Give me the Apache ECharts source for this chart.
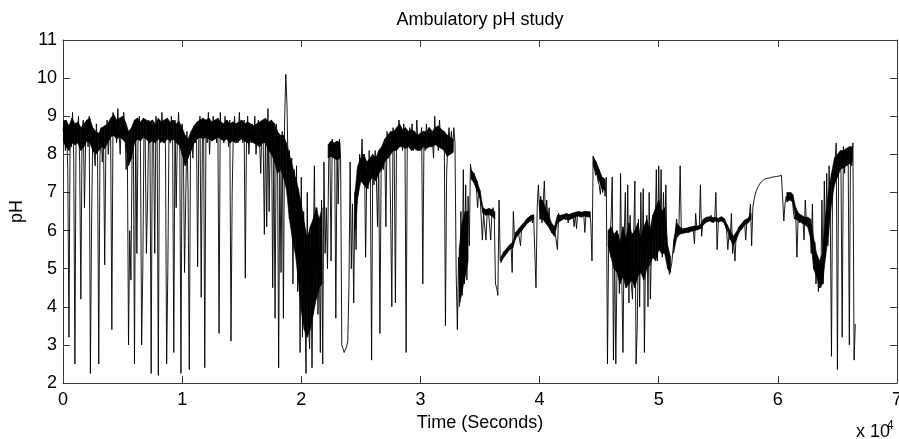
<!DOCTYPE html>
<html><head><meta charset="utf-8">
<script src="https://cdn.jsdelivr.net/npm/echarts/dist/echarts.min.js"></script>
<style>html,body{margin:0;padding:0;background:#fff}#c{width:899px;height:439px}</style>
</head><body><div id="c"></div>
<script>
// sampling interval of the recording (seconds between samples)
const sampleStep = 100;

// pH readings, 0 - 9 900 s
const ph00 = [
 8.6,8.9,8.1,8.8,7.6,3.2,8.7,8.2,9.1,7.9,
 2.5,8.8,8.4,9.0,7.8,4.2,8.6,8.9,6.6,8.3,
 8.9,8.2,9.0,2.25,6.3,8.6,8.1,7.7,8.8,8.0,
 2.5,7.9,8.7,7.8,8.5,5.1,8.3,8.9,8.0,8.6,
 8.4,3.4,9.1,8.5,8.9,8.3,9.2,8.6,8.0,8.9,
 8.4,9.1,8.6,7.6,8.2,3.0,6.0,4.7,8.1,8.8,
 2.5,8.9,5.4,8.5,9.0,8.3,3.0,5.0,8.7,8.4,
 5.4,6.8,8.9,8.3,2.25,8.8,8.4,5.4,9.0,8.5,
 2.2,8.9,8.3,9.1,8.5,8.8,8.2,2.5,5.0,8.7,
 8.3,9.0,8.4,2.8,8.9,6.6,8.5,9.1,8.3,2.25
];
// 10 000 - 19 900 s
const ph10 = [
 8.8,8.2,4.9,6.8,8.6,7.0,2.35,8.0,8.5,7.9,
 8.6,8.3,8.8,5.05,8.5,9.0,4.25,8.4,8.9,2.4,
 8.7,8.3,9.1,8.0,8.8,8.4,9.0,8.5,8.9,8.3,
 8.8,3.3,9.1,8.4,8.7,8.3,9.0,8.5,8.8,8.2,
 8.9,3.1,7.0,8.6,9.0,8.4,8.8,8.3,9.1,8.5,
 8.7,8.3,8.9,4.75,8.4,9.0,8.0,8.6,8.3,8.8,
 8.4,9.0,8.0,8.6,8.9,8.3,7.5,8.8,8.4,5.9,
 8.7,6.1,9.2,6.5,8.5,8.9,4.5,8.2,3.7,8.8,
 8.4,2.4,7.8,4.9,8.6,3.7,8.9,10.1,9.3,7.5,
 8.1,6.2,7.9,4.6,7.6,5.8,7.7,4.4,6.9,2.8
];
// 20 000 - 29 900 s
const ph20 = [
 7.4,3.2,6.5,4.0,2.25,7.0,3.6,2.9,5.5,2.4,
 5.2,7.7,4.3,6.6,3.8,5.6,2.8,6.8,2.5,7.8,
 5.4,6.6,5.0,7.8,8.2,5.2,8.4,8.0,8.3,3.7,
 8.1,6.7,8.4,7.9,3.0,2.9,2.8,2.85,2.95,3.1,
 4.5,7.8,5.0,6.7,4.1,7.0,5.5,7.6,7.2,8.0,
 7.5,8.4,7.4,8.0,5.3,7.6,7.1,8.1,7.3,2.6,
 7.8,7.2,8.1,7.4,6.1,7.9,3.3,7.5,8.2,7.6,
 8.3,6.1,8.6,7.9,8.5,6.4,4.0,8.7,8.1,4.1,
 8.6,8.2,8.9,8.3,8.7,8.1,8.8,8.4,2.8,8.6,
 8.2,8.7,8.3,8.8,8.1,8.6,8.3,8.9,8.2,8.5
];
// 30 000 - 39 900 s
const ph30 = [
 8.3,8.7,4.6,8.5,8.1,8.8,8.4,8.7,8.2,8.6,
 8.4,7.9,9.0,8.3,8.7,8.1,8.9,8.4,8.6,8.2,
 8.5,3.5,7.5,8.3,8.7,8.2,8.6,8.1,8.7,8.3,
 4.9,3.4,5.3,4.4,6.5,4.3,7.6,4.6,7.2,4.7,
 6.9,5.6,7.75,7.5,7.45,7.3,7.35,7.1,6.6,7.05,
 6.95,6.9,5.75,6.45,6.5,5.75,6.45,6.55,6.5,5.75,
 6.45,6.6,6.3,4.6,4.5,4.3,6.8,5.2,5.3,5.35,
 5.4,5.45,5.5,5.55,5.6,5.6,5.65,4.9,6.5,5.75,
 5.9,5.95,6.0,6.05,5.6,6.1,6.15,6.2,6.25,6.3,
 6.3,6.35,6.35,6.4,6.2,6.4,6.45,4.5,6.6,7.2
];
// 40 000 - 49 900 s
const ph40 = [
 6.5,6.9,6.2,6.7,7.3,6.3,6.8,6.2,6.6,6.1,
 6.1,6.0,6.05,5.95,5.9,5.5,6.45,6.25,6.3,6.3,
 6.3,6.38,6.28,6.4,6.2,6.36,6.42,6.33,6.4,6.1,
 6.42,6.05,6.45,6.38,6.5,6.42,6.37,6.48,5.95,6.44,
 6.45,6.4,6.5,6.2,5.2,7.95,7.7,7.45,7.6,7.3,
 7.2,6.95,7.3,7.0,7.35,6.9,7.4,2.5,5.8,5.7,
 6.3,7.4,2.6,5.6,2.5,5.0,5.9,4.35,7.5,4.8,
 2.8,5.8,7.0,4.5,7.2,4.1,6.4,4.6,4.2,5.9,
 7.3,2.5,3.5,6.3,4.0,7.0,5.0,7.1,2.8,5.5,
 6.4,4.0,7.0,4.2,5.6,6.1,5.4,5.9,7.6,5.2
];
// 50 000 - 59 900 s
const ph50 = [
 7.7,5.6,7.6,5.3,7.0,5.75,7.2,5.3,5.1,4.85,
 4.9,5.15,5.5,5.8,5.9,6.3,6.0,6.1,7.7,5.95,
 6.0,5.93,6.04,5.97,6.06,5.98,6.07,6.0,6.1,6.03,
 5.65,6.45,6.05,6.1,6.05,7.2,5.85,6.2,6.3,6.25,
 6.3,6.24,6.36,6.28,6.4,6.3,6.2,6.32,7.0,5.5,
 6.2,6.27,6.31,6.36,6.29,6.2,6.12,6.0,5.5,5.9,
 5.75,6.45,5.4,5.7,5.2,5.9,5.95,6.0,6.1,6.05,
 6.15,6.2,6.28,5.75,6.25,6.3,6.35,6.7,5.6,6.6,
 6.8,6.95,7.05,7.12,7.18,7.24,7.28,7.3,7.33,7.35,
 7.36,7.37,7.38,7.38,7.39,7.4,7.4,7.41,7.41,7.42
];
// 60 000 - 66 500 s
const ph60 = [
 7.42,7.43,7.44,7.45,7.46,6.25,6.7,6.9,6.75,6.95,
 6.85,7.0,6.9,6.5,6.3,6.45,5.3,6.35,6.2,6.3,
 6.3,6.28,5.75,6.8,6.2,6.25,6.3,6.1,5.4,6.7,
 5.0,5.7,4.6,5.3,4.4,5.0,4.5,6.8,4.6,7.3,
 5.3,7.5,5.6,7.7,6.5,2.7,7.6,7.25,7.85,8.3,
 2.35,7.7,8.0,7.5,3.2,8.2,7.5,8.1,7.7,8.1,
 3.0,8.2,7.7,8.3,2.6,3.55
];

// dense-noise core of the trace (too fast to resolve at this scale):
// low / high pH of the dark band every 250 s, per stretch of recording
const bandStep = 250;
const bandA_start = 0;
const bandA_low = [
 8.35,8.2,8.1,8.3,8.25,8.3,8.1,8.2,
 8.35,8.3,8.1,8.0,8.1,8.2,8.15,8.3,
 8.45,8.5,8.4,8.45,8.4,8.3,7.7,7.9,
 8.3,8.4,8.35,8.45,8.4,8.3,8.35,8.3,
 8.4,8.35,8.3,8.4,8.35,8.4,8.3,8.25,
 8.0,7.7,7.9,8.1,8.3,8.4,8.45,8.4,
 8.45,8.4,8.35,8.4,8.45,8.4,8.35,8.4,
 8.3,8.35,8.3,8.35,8.4,8.35,8.3,8.35,
 8.3,8.25,8.2,8.3,8.3,8.1,8.0,7.8,
 7.5,7.6,7.4,7.1,6.3,5.8,5.4,4.7,
 3.9,3.4,3.2,3.4,3.8,4.2,4.5,4.6
];
const bandA_high = [
 8.85,8.9,8.75,8.95,8.8,8.85,8.7,8.8,
 8.9,8.95,8.7,8.6,8.55,8.7,8.75,8.8,
 8.95,9.05,8.9,8.95,9.0,8.85,8.6,8.7,
 8.9,8.95,8.85,8.95,8.9,8.85,8.9,8.8,
 8.95,8.85,8.9,8.95,8.85,8.9,8.8,8.85,
 8.7,8.5,8.4,8.6,8.75,8.85,8.9,8.95,
 8.9,8.95,8.85,8.9,8.95,8.85,8.8,8.9,
 8.8,8.85,8.8,8.85,8.9,8.8,8.85,8.8,
 8.75,8.8,8.85,8.9,8.95,8.85,8.9,8.8,
 8.6,8.5,8.5,8.3,8.0,7.7,7.4,7.1,
 6.7,6.2,5.8,6.1,6.3,6.6,6.3,6.6
];
const bandB_start = 22250;
const bandB_low  = [7.9,7.95,7.9,7.85,7.9];
const bandB_high = [8.25,8.35,8.3,8.35,8.3];
const bandC_start = 24500;
const bandC_low = [
 6.0,6.9,7.3,7.2,7.1,7.3,7.4,7.3,
 7.5,7.6,7.8,7.9,8.0,8.1,8.1,8.2,
 8.2,8.15,8.2,8.1,8.15,8.1,8.1,8.2,
 8.15,8.2,8.2,8.25,8.2,8.15,8.1,7.95,
 8.0,8.05
];
const bandC_high = [
 7.0,7.7,7.9,8.0,7.8,7.9,8.0,7.9,
 8.1,8.2,8.4,8.5,8.6,8.6,8.7,8.8,
 8.65,8.7,8.6,8.65,8.6,8.5,8.55,8.6,
 8.6,8.7,8.6,8.7,8.75,8.65,8.6,8.5,
 8.45,8.4
];
const bandD_start = 33250;
const bandD_low  = [4.0,4.4,4.8,5.2];
const bandD_high = [5.5,6.2,6.5,6.5];
const bandE_start = 34250;
const bandE_low  = [7.35,7.25,7.05,6.85,6.45,6.4,6.42,6.38,6.3];
const bandE_high = [7.6,7.5,7.3,7.05,6.6,6.55,6.58,6.55,6.5];
const bandF_start = 36750;
const bandF_low  = [5.15,5.3,5.4,5.5,5.55,5.8,5.9,6.0,6.1,6.2,6.25,6.3];
const bandF_high = [5.3,5.45,5.52,5.62,5.7,5.95,6.05,6.15,6.22,6.32,6.38,6.42];
const bandG_start = 40000;
const bandG_low = [
 6.3,6.3,6.2,6.1,5.95,5.85,6.2,6.25,
 6.3,6.3,6.28,6.32,6.35,6.38,6.35,6.38,
 6.36,6.35
];
const bandG_high = [
 6.8,6.8,6.6,6.4,6.2,6.1,6.4,6.4,
 6.42,6.45,6.42,6.46,6.48,6.5,6.48,6.5,
 6.5,6.48
];
const bandH_start = 44500;
const bandH_low  = [7.7,7.5,7.3,7.1,7.05];
const bandH_high = [7.95,7.8,7.6,7.4,7.35];
const bandI_start = 45750;
const bandI_low = [
 5.6,5.3,5.0,4.9,4.6,4.8,4.5,4.6,
 4.7,4.5,4.8,4.9,4.7,5.0,5.1,5.3,
 5.2,5.5,5.4,5.4,5.0,4.9
];
const bandI_high = [
 6.0,6.1,5.9,6.0,5.7,6.1,5.8,6.2,
 5.9,6.0,6.2,5.8,6.1,6.3,6.0,6.4,
 6.6,6.8,6.5,6.6,5.6,5.3
];
const bandJ_start = 51250;
const bandJ_low = [
 5.4,5.8,5.9,5.93,5.94,5.95,5.98,6.0,
 6.02,6.05,6.15,6.22,6.25,6.22,6.25,6.22,
 6.25,6.2,6.0,5.8,5.6,5.75,5.95,6.05,
 6.15,6.2,6.3
];
const bandJ_high = [
 5.7,6.2,6.1,6.05,6.06,6.08,6.1,6.12,
 6.12,6.15,6.3,6.35,6.36,6.34,6.35,6.32,
 6.36,6.32,6.15,6.0,5.85,5.95,6.1,6.2,
 6.28,6.32,6.45
];
const bandK_start = 60750;
const bandK_low = [
 6.75,6.8,6.75,6.3,6.25,6.2,6.15,6.1,
 5.8,5.0,4.8,4.5,4.6,5.3,5.9,6.7,
 7.2,7.4,7.6,7.65,7.7,7.75,7.8
];
const bandK_high = [
 7.0,7.0,6.95,6.6,6.45,6.4,6.35,6.35,
 6.3,5.8,5.4,5.2,5.4,6.4,7.0,7.5,
 7.9,8.0,8.1,8.1,8.15,8.2,8.2
];

const xTickLabels = ['0','1','2','3','4','5','6','7'];
const yTickLabels = ['2','3','4','5','6','7','8','9','10','11'];

const phAll = [].concat(ph00, ph10, ph20, ph30, ph40, ph50, ph60);
const seriesData = phAll.map((v, i) => [i * sampleStep, v]);

const bandParts = [
  [bandA_start, bandA_low, bandA_high], [bandB_start, bandB_low, bandB_high],
  [bandC_start, bandC_low, bandC_high], [bandD_start, bandD_low, bandD_high],
  [bandE_start, bandE_low, bandE_high], [bandF_start, bandF_low, bandF_high],
  [bandG_start, bandG_low, bandG_high], [bandH_start, bandH_low, bandH_high],
  [bandI_start, bandI_low, bandI_high], [bandJ_start, bandJ_low, bandJ_high],
  [bandK_start, bandK_low, bandK_high]
];
const bandData = [];
bandParts.forEach(([start, lo, hi]) => {
  lo.forEach((v, i) => bandData.push([start + i * bandStep, v, hi[i]]));
  bandData.push([start + lo.length * bandStep, null, null]); // break between stretches
});

const FONT = "'Liberation Sans', Arial, Helvetica, sans-serif";
const AX = '#3a3a3a';

const chart = echarts.init(document.getElementById('c'), null, {renderer: 'canvas'});
const axisCommon = {
  axisLine: {show: true, onZero: false, lineStyle: {color: AX, width: 1}},
  axisTick: {show: true, inside: true, length: 7, lineStyle: {color: AX, width: 1}},
  splitLine: {show: false}
};

function renderBand(params, api) {
  const i = params.dataIndex;
  const cur = bandData[i], nxt = bandData[i + 1];
  if (!nxt || cur[1] == null || cur[2] == null || nxt[1] == null || nxt[2] == null) return null;
  const pts = [
    api.coord([cur[0], cur[1]]), api.coord([cur[0], cur[2]]),
    api.coord([nxt[0], nxt[2]]), api.coord([nxt[0], nxt[1]])
  ];
  return {type: 'polygon', shape: {points: pts},
    style: {fill: '#000', stroke: '#000', lineWidth: 0.6}};
}

chart.setOption({
  animation: false,
  backgroundColor: '#fff',
  title: {
    text: 'Ambulatory pH study',
    left: 475, top: 6, textAlign: 'center',
    textStyle: {fontFamily: FONT, fontSize: 18, fontWeight: 'normal', color: '#000'}
  },
  grid: {left: 63, right: 2, top: 40, bottom: 56, containLabel: false, outerBoundsMode: 'none'},
  xAxis: [
    Object.assign({
      type: 'value', position: 'bottom', min: 0, max: 70000, interval: 10000,
      axisLabel: {fontFamily: FONT, fontSize: 18, color: '#000', margin: 8,
        formatter: v => xTickLabels[Math.round(v / 10000)]},
      name: 'Time (Seconds)', nameLocation: 'middle', nameGap: 27,
      nameTextStyle: {fontFamily: FONT, fontSize: 18, color: '#000'}
    }, axisCommon),
    Object.assign({
      type: 'value', position: 'top', min: 0, max: 70000, interval: 10000,
      axisLabel: {show: false}
    }, axisCommon)
  ],
  yAxis: [
    Object.assign({
      type: 'value', position: 'left', min: 2, max: 11, interval: 1,
      axisLabel: {fontFamily: FONT, fontSize: 18, color: '#000', margin: 6,
        formatter: v => yTickLabels[Math.round(v - 2)]},
      name: 'pH', nameLocation: 'middle', nameGap: 24, nameRotate: 90,
      nameTextStyle: {fontFamily: FONT, fontSize: 18, color: '#000'}
    }, axisCommon),
    Object.assign({
      type: 'value', position: 'right', min: 2, max: 11, interval: 1,
      axisLabel: {show: false}
    }, axisCommon)
  ],
  graphic: [
    {type: 'text', left: 856, top: 423, style: {text: 'x 10', fontFamily: FONT, fontSize: 18, fill: '#000'}},
    {type: 'text', left: 887, top: 420, style: {text: '4', fontFamily: FONT, fontSize: 12, fill: '#000'}}
  ],
  series: [
    {
      type: 'custom', xAxisIndex: 0, yAxisIndex: 0, clip: true,
      renderItem: renderBand, data: bandData,
      encode: {x: 0, y: [1, 2]}, z: 1
    },
    {
      type: 'line', xAxisIndex: 0, yAxisIndex: 0,
      data: seriesData, showSymbol: false, symbol: 'none',
      sampling: null, smooth: false, clip: true, z: 2,
      lineStyle: {color: '#000', width: 0.9}
    }
  ]
});
</script>
</body></html>
